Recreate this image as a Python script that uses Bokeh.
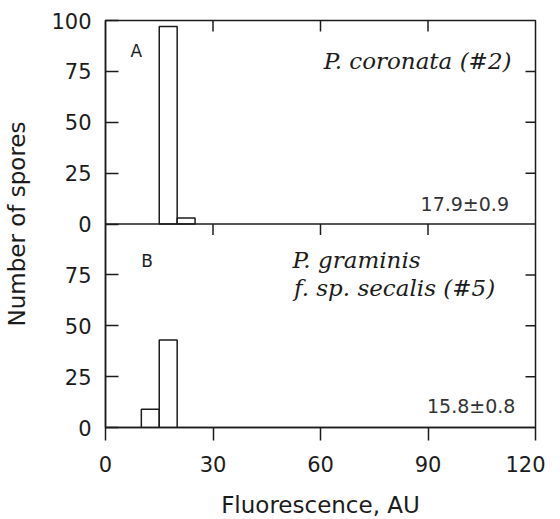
from bokeh.plotting import figure
from bokeh.models import (Range1d, LinearAxis, FixedTicker, Label, Span, Ray,
                          ColumnDataSource)
from bokeh.embed import file_html
from bokeh.resources import INLINE
import numpy as np

# ---- data ----
bin_width = 5
top_bin_left = [15, 20]          # P. coronata (#2)
top_counts = [97, 3]
bottom_bin_left = [10, 15]       # P. graminis f. sp. secalis (#5)
bottom_counts = [9, 43]

x_ticks = [0, 30, 60, 90, 120]
y_ticks = [0, 25, 50, 75, 100]
panel_max = 100

INK = "#1c1c1c"
SANS = "DejaVu Sans"
SERIF = "DejaVu Serif"

p = figure(frame_width=430, frame_height=407,
           x_range=Range1d(0, 120), y_range=Range1d(0, 2 * panel_max),
           output_backend="svg", toolbar_location=None,
           x_axis_location=None, y_axis_location=None,
           min_border_left=105, min_border_top=20, min_border_right=10,
           min_border_bottom=90)
p.extra_y_ranges = {"top": Range1d(-panel_max, panel_max)}
p.xgrid.visible = False
p.ygrid.visible = False
p.outline_line_color = INK
p.outline_line_width = 1.5
p.background_fill_color = "white"
p.border_fill_color = "white"

# bars
src_top = ColumnDataSource(dict(left=top_bin_left,
                                right=[b + bin_width for b in top_bin_left],
                                top=top_counts))
src_bot = ColumnDataSource(dict(left=bottom_bin_left,
                                right=[b + bin_width for b in bottom_bin_left],
                                top=bottom_counts))
p.quad(left="left", right="right", top="top", bottom=0, source=src_top,
       y_range_name="top", fill_color="white", line_color=INK, line_width=1.5)
p.quad(left="left", right="right", top="top", bottom=0, source=src_bot,
       fill_color="white", line_color=INK, line_width=1.5)

# separator between panels
p.add_layout(Span(location=panel_max, dimension="width", line_color=INK,
                  line_width=1.5))

# left axis (bottom panel 0..75, top panel 0..100)
left_ticks = [t for t in y_ticks[:-1]] + [panel_max + t for t in y_ticks]
overrides = {}
for t in y_ticks[:-1]:
    overrides[t] = str(t)
for t in y_ticks:
    overrides[panel_max + t] = str(t)
ly = LinearAxis(ticker=FixedTicker(ticks=left_ticks),
                major_label_overrides=overrides,
                axis_label="Number of spores")
ly.major_tick_in = 13
ly.major_tick_out = 0
ly.minor_tick_in = 0
ly.minor_tick_out = 0
ly.major_label_standoff = 14
ly.axis_label_standoff = 18
ly.major_label_text_font = SANS
ly.major_label_text_font_size = "21px"
ly.major_label_text_color = INK
ly.axis_label_text_font = SANS
ly.axis_label_text_font_size = "23px"
ly.axis_label_text_font_style = "normal"
ly.axis_label_text_color = INK
ly.axis_line_color = INK
ly.axis_line_width = 1.5
ly.major_tick_line_color = INK
ly.major_tick_line_width = 1.5
p.add_layout(ly, "left")

# bottom axis
bx = LinearAxis(ticker=FixedTicker(ticks=x_ticks),
                axis_label="Fluorescence, AU")
bx.major_tick_in = 0
bx.major_tick_out = 13
bx.minor_tick_in = 0
bx.minor_tick_out = 0
bx.major_label_standoff = 15
bx.axis_label_standoff = 17
bx.major_label_text_font = SANS
bx.major_label_text_font_size = "21px"
bx.major_label_text_color = INK
bx.axis_label_text_font = SANS
bx.axis_label_text_font_size = "23px"
bx.axis_label_text_font_style = "normal"
bx.axis_label_text_color = INK
bx.axis_line_color = INK
bx.axis_line_width = 1.5
bx.major_tick_line_color = INK
bx.major_tick_line_width = 1.5
p.add_layout(bx, "below")

# inward ticks on the right edge of both panels
right_ticks = [t for t in y_ticks[1:-1]] + [panel_max + t for t in y_ticks[1:-1]]
r_src = ColumnDataSource(dict(x=[x_ticks[-1]] * len(right_ticks), y=right_ticks))
p.add_glyph(r_src, Ray(x="x", y="y", length=10, length_units="screen",
                       angle=np.pi, line_color=INK, line_width=1.5))

# inward ticks on the top edge and on the separator
inner_x = x_ticks[1:-1]
t_src = ColumnDataSource(dict(x=inner_x + inner_x,
                              y=[2 * panel_max] * len(inner_x) + [panel_max] * len(inner_x)))
p.add_glyph(t_src, Ray(x="x", y="y", length=11, length_units="screen",
                       angle=-np.pi / 2, line_color=INK, line_width=1.5))

# panel labels
p.add_layout(Label(x=7, y=85, y_range_name="top", text="A",
                   text_baseline="alphabetic",
                   text_font=SANS, text_font_size="17px", text_color=INK))
p.add_layout(Label(x=10, y=82, text="B", text_baseline="alphabetic",
                   text_font=SANS, text_font_size="17px", text_color=INK))

# species names
p.add_layout(Label(x=113.3, y=80, y_range_name="top",
                   text="P. coronata (#2)", text_align="right",
                   text_baseline="alphabetic",
                   text_font=SERIF, text_font_style="italic",
                   text_font_size="23px", text_color=INK))
p.add_layout(Label(x=52.2, y=82.4, text="P. graminis",
                   text_baseline="alphabetic",
                   text_font=SERIF, text_font_style="italic",
                   text_font_size="23px", text_color=INK))
p.add_layout(Label(x=52.6, y=68.6, text="f. sp. secalis (#5)",
                   text_baseline="alphabetic",
                   text_font=SERIF, text_font_style="italic",
                   text_font_size="23px", text_color=INK))

# mean ± sd
p.add_layout(Label(x=112.6, y=10, y_range_name="top", text="17.9\u00b10.9",
                   text_align="right", text_baseline="alphabetic",
                   text_font=SANS, text_font_size="19px", text_color="#333333"))
p.add_layout(Label(x=114.4, y=10.5, text="15.8\u00b10.8",
                   text_align="right", text_baseline="alphabetic",
                   text_font=SANS, text_font_size="19px", text_color="#333333"))

open("out.html", "w").write(file_html(p, INLINE))
